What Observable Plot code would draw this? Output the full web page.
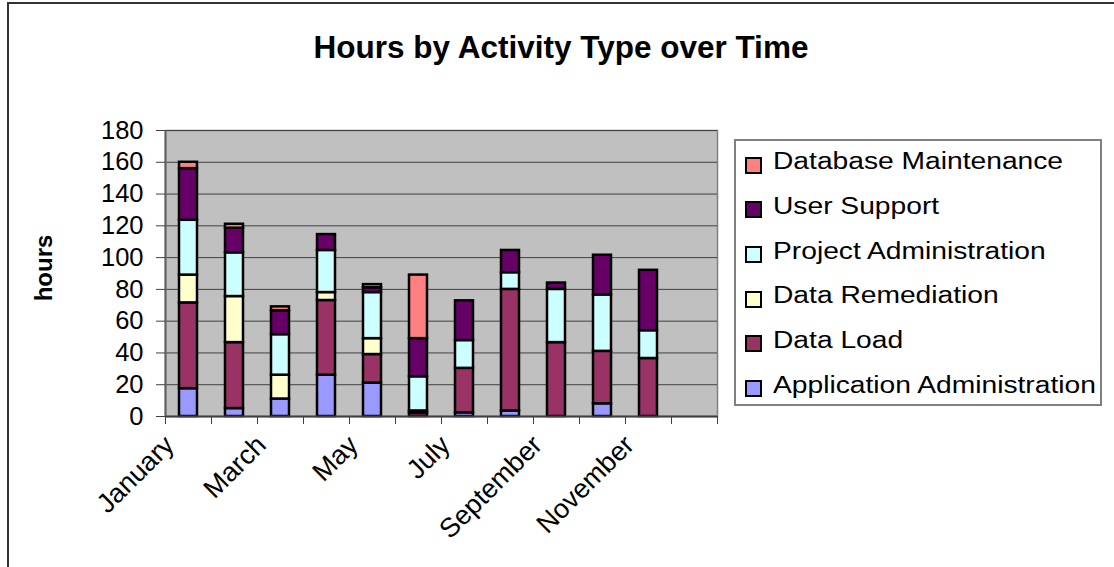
<!DOCTYPE html>
<html>
<head>
<meta charset="utf-8">
<script src="https://cdn.jsdelivr.net/npm/d3@7"></script>
<script src="https://cdn.jsdelivr.net/npm/@observablehq/plot@0.6"></script>
<style>
  html, body { margin: 0; padding: 0; background: #fff; }
  #wrap { position: relative; width: 1114px; height: 567px; overflow: hidden; background: #fff;
          font-family: Arial, "Liberation Sans", sans-serif; color: #000; }
  #wrap svg { position: absolute; left: 0; top: 0; }
  #border { position: absolute; left: 7px; top: 2px; width: 1300px; height: 800px; border: 2px solid #333; box-sizing: border-box; }
  #title { position: absolute; top: 32px; left: 561px; white-space: nowrap; font-weight: bold; font-size: 31.5px; line-height: 31.5px;
           transform: translateX(-50%); }
  #ylabel { position: absolute; left: 44px; top: 268px; font-weight: bold; font-size: 24px; line-height: 24px; white-space: nowrap;
            transform: translate(-50%, -50%) rotate(-90deg); }
  #legend { position: absolute; left: 734px; top: 139px; width: 368px; height: 267px; border: 2px solid #808080; box-sizing: border-box; background: #fff; }
  .sw { position: absolute; left: 9px; width: 17px; height: 17px; border: 2px solid #000; box-sizing: border-box; }
  .lab { position: absolute; left: 37px; font-size: 23.5px; line-height: 23.5px; white-space: nowrap; transform: scaleX(1.2); transform-origin: left center; }
</style>
</head>
<body>
<div id="wrap">
  <div id="border"></div>
  <div id="title">Hours by Activity Type over Time</div>
  <div id="ylabel">hours</div>
  <div id="legend"></div>
</div>
<script>
const months = ["January","February","March","April","May","June","July","August","September","October","November","December"];
const shownMonths = ["January","March","May","July","September","November"];
const series = ["Application Administration","Data Load","Data Remediation","Project Administration","User Support","Database Maintenance"];
const colors = ["#9999FF","#993366","#FFFFCC","#CCFFFF","#660066","#FF8080"];

const applicationAdministration = [17.5, 5, 11, 26, 21, 0, 2.3, 3.5, 0, 8, 0, 0];
const dataLoad                  = [54, 41.5, 0, 47, 18, 2, 28, 76.5, 46.5, 33, 36.5, 0];
const dataRemediation           = [17.5, 29, 15, 5, 10, 1.5, 0, 0, 0, 0, 0, 0];
const projectAdministration     = [34.5, 27.5, 25.5, 26.5, 29, 21.5, 17.5, 10.5, 33.5, 35.5, 17.5, 0];
const userSupport               = [32.5, 15.5, 15, 10, 3, 24, 25, 14, 4, 25, 38, 0];
const databaseMaintenance       = [4, 2.5, 2.5, 0, 2, 40, 0, 0, 0, 0, 0, 0];

const yTicks = [0, 20, 40, 60, 80, 100, 120, 140, 160, 180];

const valuesBySeries = [applicationAdministration, dataLoad, dataRemediation, projectAdministration, userSupport, databaseMaintenance];
const data = series.flatMap((s, k) =>
  valuesBySeries[k].map((v, i) => ({month: months[i], series: s, value: v})).filter(d => d.value > 0)
);

const W = 1114, H = 567;
const mL = 165, mR = 397, mT = 130, mB = 151;
const step = (W - mL - mR) / months.length;

const chart = Plot.plot({
  width: W, height: H,
  marginLeft: mL, marginRight: mR, marginTop: mT, marginBottom: mB,
  style: {background: "transparent", fontFamily: "Arial, 'Liberation Sans', sans-serif", color: "#000", overflow: "visible"},
  x: {domain: months, paddingInner: 0.6, paddingOuter: 0.3, axis: null},
  y: {domain: [0, 180], axis: null},
  color: {domain: series, range: colors},
  marks: [
    Plot.frame({fill: "#C0C0C0", stroke: "#808080", strokeWidth: 1.5}),
    Plot.gridY({ticks: yTicks, stroke: "#404040", strokeOpacity: 1, strokeWidth: 1}),
    Plot.barY(data, {x: "month", y: "value", fill: "series", stroke: "#000", strokeWidth: 2.5}),
    Plot.ruleY([0], {stroke: "#404040", strokeWidth: 2}),
    Plot.ruleX(["January"], {dx: -step / 2, stroke: "#606060", strokeWidth: 2}),
    Plot.axisY({ticks: yTicks, tickSize: 9, tickPadding: 13, fontSize: 25.5, label: null, stroke: "#404040"}),
    Plot.axisX({ticks: months, tickSize: 8, tickFormat: () => "", dx: -step / 2, label: null, stroke: "#404040"}),
    Plot.axisX({ticks: ["December"], tickSize: 8, tickFormat: () => "", dx: step / 2, label: null, stroke: "#404040"}),
    Plot.axisX({ticks: shownMonths, tickSize: 0, tickPadding: 14, tickRotate: -45, fontSize: 27, label: null, dx: -19, dy: 10})
  ]
});
document.getElementById("wrap").insertBefore(chart, document.getElementById("title"));

// legend (top to bottom: reverse stacking order)
const legend = document.getElementById("legend");
const baseline0 = 170, rowGap = 44.7, legTop = 139;
series.slice().reverse().forEach((s, j) => {
  const k = series.indexOf(s);
  const b = baseline0 + rowGap * j - legTop - 2;
  const sw = document.createElement("div");
  sw.className = "sw";
  sw.style.top = (b - 13.5) + "px";
  sw.style.background = colors[k];
  const lab = document.createElement("div");
  lab.className = "lab";
  lab.style.top = (b - 0.8465 * 23.5) + "px";
  lab.textContent = s;
  legend.appendChild(sw);
  legend.appendChild(lab);
});
</script>
</body>
</html>
